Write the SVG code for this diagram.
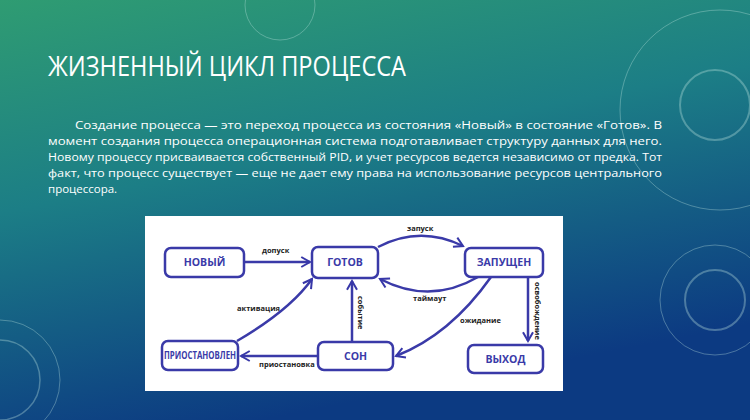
<svg xmlns="http://www.w3.org/2000/svg" width="750" height="420" viewBox="0 0 750 420">
<defs>
<linearGradient id="bg" x1="0" y1="0" x2="0.35" y2="1">
<stop offset="0" stop-color="#2f9c72"/>
<stop offset="0.45" stop-color="#1c7e86"/>
<stop offset="1" stop-color="#0c3a82"/>
</linearGradient>
<marker id="ah" viewBox="0 0 10 10" refX="8" refY="5" markerWidth="5" markerHeight="5" orient="auto" markerUnits="strokeWidth">
<path d="M1,1 L8,5 L1,9" fill="none" stroke="#3737a8" stroke-width="1.6"/>
</marker>
<style>
.node rect{fill:#fff;stroke:#3a3aa8;stroke-width:2.5}
.node text{font-family:"Open Sans","Liberation Sans",sans-serif;font-weight:bold;font-size:10.5px;fill:#3a3aa8;text-anchor:middle}
.c path{fill:none;stroke:#3a3aa8;stroke-width:2.5;marker-end:url(#ah)}
.lbl{font-family:"Open Sans","Liberation Sans",sans-serif;font-weight:bold;font-size:7.5px;fill:#222}
.p{font-family:"Open Sans","Liberation Sans",sans-serif;font-size:11.5px;fill:#fff}
.deco{fill:none;stroke:#bfe6e0;stroke-opacity:0.35}
</style>
</defs>
<rect width="750" height="420" fill="url(#bg)"/>
<g class="deco">
<circle cx="720" cy="110" r="100" stroke-width="1"/>
<circle cx="715" cy="105" r="35" stroke-width="2"/>
<circle cx="715" cy="300" r="30" stroke-width="2"/>
<circle cx="715" cy="300" r="55" stroke-width="1"/>
<circle cx="280" cy="5" r="35" stroke-width="1"/>
<circle cx="0" cy="380" r="60" stroke-width="1"/>
<circle cx="0" cy="380" r="40" stroke-width="1.5"/>
</g>
<text x="48" y="76" font-family="'Open Sans','Liberation Sans',sans-serif" font-size="28" fill="#fff" textLength="358" lengthAdjust="spacingAndGlyphs">ЖИЗНЕННЫЙ ЦИКЛ ПРОЦЕССА</text>
<text class="p" x="75" y="129" textLength="587" lengthAdjust="spacingAndGlyphs">Создание процесса — это переход процесса из состояния «Новый» в состояние «Готов». В</text>
<text class="p" x="48" y="145" textLength="614" lengthAdjust="spacingAndGlyphs">момент создания процесса операционная система подготавливает структуру данных для него.</text>
<text class="p" x="48" y="161" textLength="614" lengthAdjust="spacingAndGlyphs">Новому процессу присваивается собственный PID, и учет ресурсов ведется независимо от предка. Тот</text>
<text class="p" x="48" y="177" textLength="614" lengthAdjust="spacingAndGlyphs">факт, что процесс существует — еще не дает ему права на использование ресурсов центрального</text>
<text class="p" x="48" y="193">процессора.</text>
<rect x="145" y="216" width="418" height="175" fill="#fff"/>
<g class="c">
<path d="M244,262 L310,262"/>
<path d="M378,247 Q420,225 463,246"/>
<path d="M478,277 Q430,305 380,279"/>
<path d="M528,277 L528,341"/>
<path d="M491,277 Q450,335 396,356"/>
<path d="M352,342 L352,281"/>
<path d="M318,356 L241,356"/>
<path d="M237,341 Q290,310 312,279"/>
</g>
<g id="lbls">
<text class="lbl" x="262" y="253">допуск</text>
<text class="lbl" x="407" y="231">запуск</text>
<text class="lbl" x="413" y="301">таймаут</text>
<text class="lbl" x="460" y="323">ожидание</text>
<text class="lbl" x="237" y="311">активация</text>
<text class="lbl" x="259" y="367">приостановка</text>
<text class="lbl" transform="translate(358,296) rotate(90)">событие</text>
<text class="lbl" transform="translate(535,282) rotate(90)">освобождение</text>
</g>
<g id="novyi" class="node"><rect x="165" y="248" width="79" height="29" rx="6"/><text x="204.5" y="266">НОВЫЙ</text></g>
<g id="gotov" class="node"><rect x="312" y="247" width="66" height="31" rx="6"/><text x="345" y="266">ГОТОВ</text></g>
<g id="zapushchen" class="node"><rect x="465" y="248" width="78" height="29" rx="6"/><text x="504" y="266">ЗАПУЩЕН</text></g>
<g id="priostanovlen" class="node"><rect x="162" y="341" width="76" height="29" rx="6"/><text x="200" y="359" textLength="72" lengthAdjust="spacingAndGlyphs">ПРИОСТАНОВЛЕН</text></g>
<g id="son" class="node"><rect x="318" y="342" width="75" height="28" rx="6"/><text x="355.5" y="360">СОН</text></g>
<g id="vykhod" class="node"><rect x="468" y="345" width="75" height="28" rx="6"/><text x="505.5" y="363">ВЫХОД</text></g>
</svg>
